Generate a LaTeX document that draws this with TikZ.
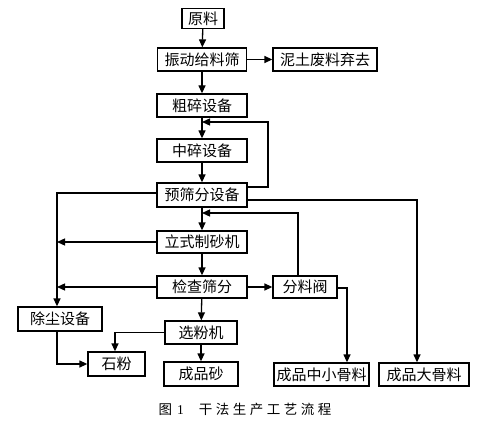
\documentclass[tikz,border=0pt]{standalone}
\usepackage{fontspec}
\setmainfont{Liberation Serif}
\newfontfamily\cjk{Noto Sans CJK SC}
\usetikzlibrary{arrows.meta}
\begin{document}
\begin{tikzpicture}[x=1pt,y=-1pt,
  box/.style={draw,line width=1.3pt,inner sep=0pt,minimum height=23pt,font=\cjk\fontsize{15}{15}\selectfont},
  arr/.style={line width=1.3pt,-{Triangle[length=8pt,width=7pt]}}]
\useasboundingbox (0,0) rectangle (484,422);
\node[box,minimum width=42pt,minimum height=20pt] (yl) at (203,18.5) {原料};
\node[box,minimum width=89pt] (zd) at (202,59.5) {振动给料筛};
\node[box,minimum width=104pt] (nt) at (325,59.5) {泥土废料弃去};
\node[box,minimum width=90pt] (cs) at (202,105.5) {粗碎设备};
\node[box,minimum width=90pt] (zs) at (202,150.5) {中碎设备};
\node[box,minimum width=90pt,minimum height=24pt] (ys) at (202,195) {预筛分设备};
\node[box,minimum width=90pt,minimum height=22pt] (lz) at (202,242) {立式制砂机};
\node[box,minimum width=90pt,minimum height=22pt] (jc) at (202,287) {检查筛分};
\node[box,minimum width=64pt,minimum height=22pt] (fl) at (305,287) {分料阀};
\node[box,minimum width=72pt] (xf) at (201,332.5) {选粉机};
\node[box,minimum width=74pt,minimum height=24pt] (cp) at (201,374) {成品砂};
\node[box,minimum width=57pt,minimum height=24pt] (sf) at (116.5,364) {石粉};
\node[box,minimum width=84pt,minimum height=24pt] (cc) at (60,319) {除尘设备};
\node[box,minimum width=95pt] (zx) at (321.5,374.5) {成品中小骨料};
\node[box,minimum width=90pt] (dg) at (424,374.5) {成品大骨料};
\node[font=\cjk\fontsize{13.5}{13.5}\selectfont] (cap) at (245,409) {图\hspace{5pt}{\fontspec{Liberation Serif}1}\hspace{15pt}干\hspace{3.5pt}法\hspace{3.5pt}生\hspace{3.5pt}产\hspace{3.5pt}工\hspace{3.5pt}艺\hspace{3.5pt}流\hspace{3.5pt}程};
\coordinate (m1) at (202,122);
\coordinate (m2) at (202,213);
\coordinate (l1) at (57,242);
\coordinate (l2) at (57,287);
\coordinate (r1) at (268,187);
\coordinate (r2) at (347,288);
\draw[arr] (yl) -- (zd);
\draw[arr] (zd) -- (nt);
\draw[arr] (zd) -- (cs);
\draw[arr] (cs) -- (zs);
\draw[arr] (zs) -- (ys);
\draw[arr] (ys) -- (lz);
\draw[arr] (lz) -- (jc);
\draw[arr] (jc) -- (fl);
\draw[arr] (jc) -- (xf);
\draw[arr] (xf) -- (cp);
\draw[arr] ([yshift=8pt]ys.east) -- (r1) |- (m1);
\draw[arr] ([yshift=-5pt]ys.east) -| (dg.north -| 417,0);
\draw[arr] ([yshift=2pt]ys.west) -| (cc.north -| l1);
\draw[arr] (lz.west) -- (l1);
\draw[arr] (jc.west) -- (l2);
\draw[arr] (fl.north -| 298,0) |- (m2);
\draw[arr] ([yshift=-1pt]fl.east) -- (r2) -- (zx.north -| r2);
\draw[arr] (xf.west) -| (sf.north -| 115,0);
\draw[arr] (cc.south -| l1) |- (sf.west);
\end{tikzpicture}
\end{document}
